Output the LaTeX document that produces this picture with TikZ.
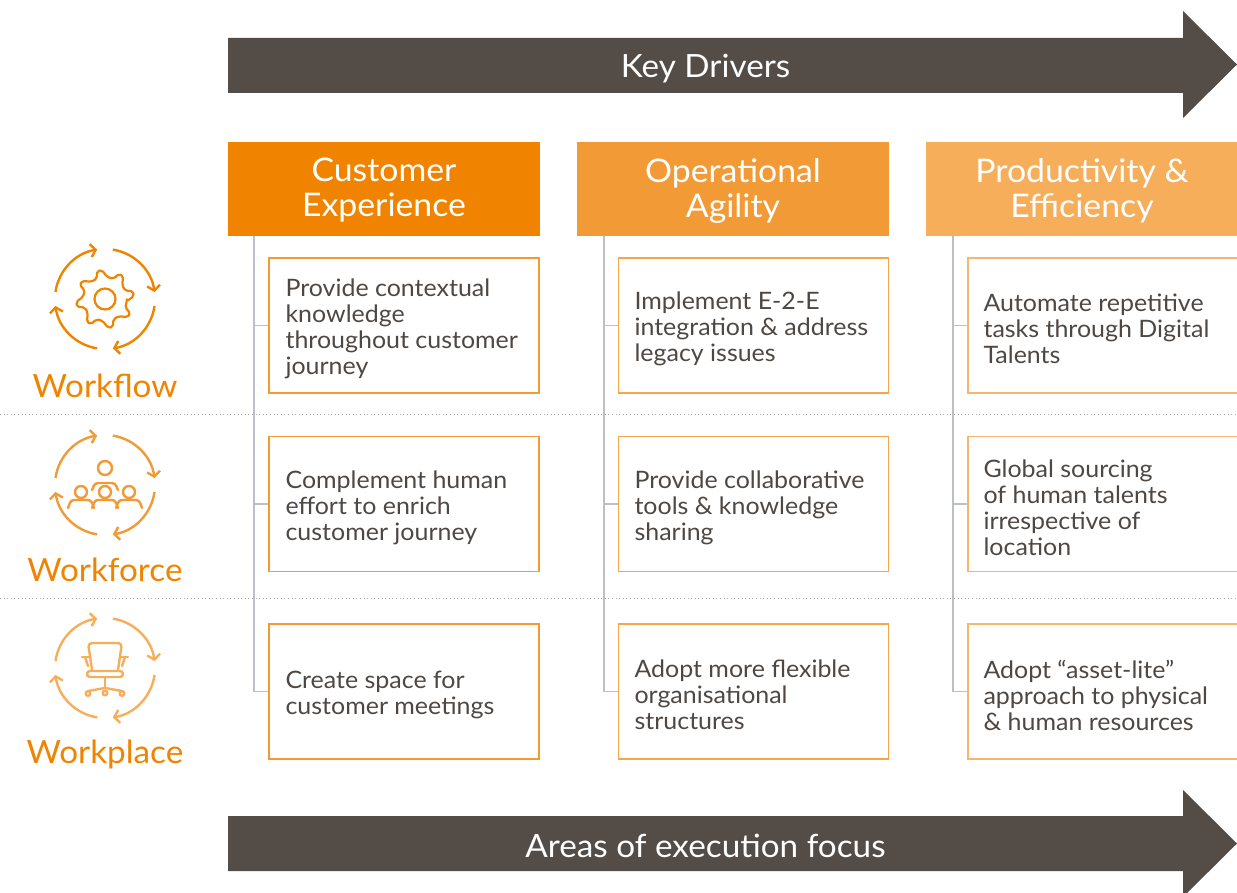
\documentclass[tikz,border=0pt]{standalone}
\usepackage{fontspec}
\setmainfont{Lato}[FakeStretch=1.04]
\usetikzlibrary{arrows.meta}
\definecolor{orA}{HTML}{F08400}
\definecolor{orB}{HTML}{F29A35}
\definecolor{orC}{HTML}{F6AE5B}
\definecolor{bdA}{HTML}{F39A36}
\definecolor{bdB}{HTML}{F5A54A}
\definecolor{bdC}{HTML}{F7B66E}
\definecolor{arrowc}{HTML}{544C46}
\definecolor{txtgray}{HTML}{4E4844}
\definecolor{vgray}{HTML}{BCC0C4}
\definecolor{dotgray}{HTML}{A9A9A9}
\begin{document}
\begin{tikzpicture}[x=1pt,y=-1pt,
  hdr/.style={fill=#1, minimum width=312pt, minimum height=94pt, inner sep=0pt},
  hdrtxt/.style={text=white, font=\fontsize{32.5}{35}\selectfont, align=center},
  bx/.style={draw=#1, line width=1.3pt, minimum width=270pt, minimum height=135pt, inner sep=0pt},
  txt/.style={text=txtgray, font=\fontsize{24}{26}\selectfont, align=left, anchor=west, inner sep=0pt, yshift=-3.5pt},
  vline/.style={draw=vgray, line width=1.5pt},
  dotline/.style={draw=dotgray, line width=1pt, dash pattern=on 1pt off 2.6pt},
  bigarrow/.style={fill=arrowc},
  arrtxt/.style={text=white, font=\fontsize{32}{36}\selectfont},
  lbl/.style={text=orA, font=\fontsize{32}{36}\selectfont},
  ring/.style={draw=#1, line width=2.4pt, -{Straight Barb[length=5pt,width=13pt]}},
  icon/.style={draw=#1, line width=2.4pt, line cap=round, line join=round}
]
\useasboundingbox (0,0) rectangle (1237,893);

% big arrows
\fill[bigarrow] (228,38) -- (1183,38) -- (1183,11) -- (1237,64.5) -- (1183,118) -- (1183,93) -- (228,93) -- cycle;
\node[arrtxt] (kd) at (705.5,69) {Key Drivers};
\fill[bigarrow] (228,816) -- (1183,816) -- (1183,790) -- (1237,843.5) -- (1183,897) -- (1183,871) -- (228,871) -- cycle;
\node[arrtxt] (ae) at (705.5,846) {Areas of execution focus};

% dotted separators
\coordinate (d1a) at (0,414); \coordinate (d1b) at (1237,414);
\coordinate (d2a) at (0,598); \coordinate (d2b) at (1237,598);
\draw[dotline] (d1a) -- (d1b);
\draw[dotline] (d2a) -- (d2b);

% headers
\node[hdr=orA] (h1) at (384,189) {};
\node[hdr=orB] (h2) at (733,189) {};
\node[hdr=orC] (h3) at (1082,189) {};
\node[hdrtxt] (ht1) at ([yshift=-1.5pt]h1.center) {Customer\\Experience};
\node[hdrtxt] (ht2) at ([yshift=-1.5pt]h2.center) {Operational\\Agility};
\node[hdrtxt] (ht3) at ([yshift=-1.5pt]h3.center) {Productivity \&\\Efficiency};

% boxes
\foreach \c/\x/\col/\w in {1/404/bdA/270,2/753.5/bdB/270,3/1105.5/bdC/275}{
  \node[bx=\col, minimum width=\w pt] (b\c1) at (\x,325.5) {};
  \node[bx=\col, minimum width=\w pt] (b\c2) at (\x,504) {};
  \node[bx=\col, minimum width=\w pt] (b\c3) at (\x,691.5) {};
}

% vertical connectors
\coordinate (v1) at (254,236);
\coordinate (v2) at (604,236);
\coordinate (v3) at (953,236);
\foreach \c in {1,2,3}{
  \draw[vline] (v\c) |- (b\c3.west);
  \draw[vline] (b\c1.west -| v\c) -- (b\c1.west);
  \draw[vline] (b\c2.west -| v\c) -- (b\c2.west);
}

% texts
\node[txt] (t11) at ([xshift=17pt]b11.west) {Provide contextual\\knowledge\\throughout customer\\journey};
\node[txt] (t12) at ([xshift=17pt]b12.west) {Complement human\\effort to enrich\\customer journey};
\node[txt] (t13) at ([xshift=17pt]b13.west) {Create space for\\customer meetings};
\node[txt] (t21) at ([xshift=16.5pt]b21.west) {Implement E-2-E\\integration \& address\\legacy issues};
\node[txt] (t22) at ([xshift=16.5pt]b22.west) {Provide collaborative\\tools \& knowledge\\sharing};
\node[txt] (t23) at ([xshift=16.5pt]b23.west) {Adopt more flexible\\organisational\\structures};
\node[txt] (t31) at ([xshift=16pt]b31.west) {Automate repetitive\\tasks through Digital\\Talents};
\node[txt] (t32) at ([xshift=16pt]b32.west) {Global sourcing\\of human talents\\irrespective of\\location};
\node[txt] (t33) at ([xshift=16pt]b33.west) {Adopt “asset-lite”\\approach to physical\\\& human resources};

% labels
\node[lbl] (l1) at (105,386) {Workflow};
\node[lbl] (l2) at (105,570) {Workforce};
\node[lbl] (l3) at (105,754) {Workplace};

% icon rings
\foreach \cy/\col in {299/orA,485/orB,668/orC}{
  \begin{scope}[shift={(105,\cy)}, y=1pt]
    \draw[ring=\col] (172:50) arc[start angle=172, end angle=99, radius=50];
    \draw[ring=\col] (81:50) arc[start angle=81, end angle=8, radius=50];
    \draw[ring=\col] (-8:50) arc[start angle=-8, end angle=-81, radius=50];
    \draw[ring=\col] (-99:50) arc[start angle=-99, end angle=-172, radius=50];
  \end{scope}
}

% gear
\begin{scope}[shift={(105,299)}, y=1pt]
  \draw[icon=orA, line width=2.2pt, rounded corners=2pt] (-6:22)
    \foreach \a in {0,45,...,315}{ -- (\a+6:29) -- (\a+16:29) -- (\a+22:22) -- (\a+39:22) } -- cycle;
  \draw[icon=orA, line width=2.2pt] (0,0) circle[radius=10.5];
\end{scope}

% people
\begin{scope}[shift={(105,485)}, y=1pt]
  \draw[icon=orB] (0,17) circle[radius=7];
  \draw[icon=orB, rounded corners=3pt] (-13,-5) -- (-10,2) -- (10,2) -- (13,-5);
  \foreach \px in {-24,0,24}{
    \draw[icon=orB] (\px,-7) circle[radius=6];
    \draw[icon=orB, rounded corners=3pt] (\px-13,-23) -- (\px-10,-15) -- (\px+10,-15) -- (\px+13,-23);
  }
\end{scope}

% chair
\begin{scope}[shift={(105,668)}, y=1pt]
  \draw[icon=orC, rounded corners=4pt] (-13,-2) -- (-15,12) -- (-17,25) -- (17,25) -- (15,12) -- (13,-2);
  \draw[icon=orC, rounded corners=3pt] (-18,-3) rectangle (18,-9);
  \draw[icon=orC] (-23,11) -- (-15,11);
  \draw[icon=orC] (-20,11) -- (-17,2);
  \draw[icon=orC] (23,11) -- (15,11);
  \draw[icon=orC] (20,11) -- (17,2);
  \draw[icon=orC] (0,-9) -- (0,-20);
  \draw[icon=orC] (-17,-23) -- (0,-20) -- (17,-23);
  \draw[icon=orC] (-17,-25.5) circle[radius=2.3];
  \draw[icon=orC] (0,-25) circle[radius=2.3];
  \draw[icon=orC] (17,-25.5) circle[radius=2.3];
\end{scope}
\end{tikzpicture}
\end{document}
